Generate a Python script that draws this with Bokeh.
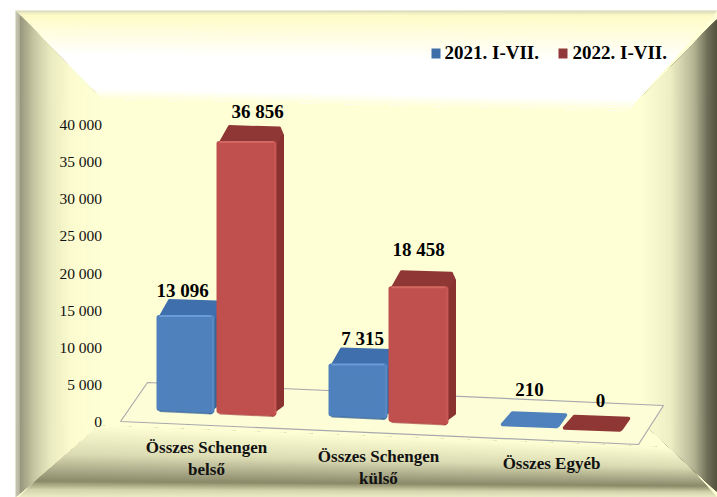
from bokeh.plotting import figure
from bokeh.models import Range1d, LinearAxis, FixedTicker
from bokeh.core.properties import value as V
from bokeh.embed import file_html
from bokeh.resources import INLINE

categories = ["Összes Schengen\nbelső", "Összes Schengen\nkülső", "Összes Egyéb"]
series_names = ["2021. I-VII.", "2022. I-VII."]
values_2021 = [13096, 7315, 210]
values_2022 = [36856, 18458, 0]
ticks = [0, 5000, 10000, 15000, 20000, 25000, 30000, 35000, 40000]

SERIF = V("Liberation Serif")
W, H = 717, 497
Y0, K = 421.0, 297.0 / 40000.0

def v_of(py):
    return (Y0 - py) / K

def fmt(n):
    return f"{n:,}".replace(",", " ")

p = figure(width=W, height=H, output_backend="svg", toolbar_location=None,
           x_range=Range1d(0, W), y_range=Range1d(v_of(H), v_of(0)),
           x_axis_location=None, y_axis_location=None,
           min_border=0, min_border_left=0, min_border_right=0, min_border_top=0, min_border_bottom=0,
           outline_line_color=None, background_fill_color="white", border_fill_color="white")
p.grid.visible = False
p.extra_y_ranges = {"px": Range1d(H, 0)}

def hx(c):
    return tuple(int(c[i:i + 2], 16) for i in (1, 3, 5))

def ramp(stops, t):
    for (a, ca), (b, cb) in zip(stops, stops[1:]):
        if t <= b:
            f = (t - a) / (b - a) if b > a else 0
            A, B = hx(ca), hx(cb)
            return "#%02x%02x%02x" % tuple(round(A[i] + (B[i] - A[i]) * f) for i in range(3))
    return stops[-1][1]

def band(a, b, c, d, stops, n=60):
    xs, ys, cs = [], [], []
    for i in range(n):
        t = i / n
        xs.append([a[0] + t * (c[0] - a[0]), b[0] + t * (d[0] - b[0]), d[0], c[0]])
        ys.append([a[1] + t * (c[1] - a[1]), b[1] + t * (d[1] - b[1]), d[1], c[1]])
        cs.append(ramp(stops, t))
    p.patches(xs, ys, fill_color=cs, line_color=None, y_range_name="px")

PANEL = "#ffffd6"
p.quad(left=[15], right=[717], top=[10], bottom=[497], fill_color=PANEL, line_color=None, y_range_name="px")
band((15, 10), (717, 10), (100, 98), (627, 110),
     [(0, "#dcdcc0"), (0.04, "#fffbc6"), (0.25, "#fffde0"), (0.5, "#ffffff"), (0.88, "#ffffff"), (1, PANEL)])
band((18, 497), (717, 497), (92, 425), (670, 447),
     [(0, "#eaeac4"), (0.1, "#d4d4ac"), (0.22, "#8a8a68"), (0.34, "#a4a484"), (0.6, "#dcdcb4"), (1, PANEL)])
band((15, 10), (15, 497), (100, 98), (100, 423),
     [(0, "#c4c4b0"), (0.04, "#b8b8a0"), (0.05, "#98987e"), (0.2, "#c4c4a0"), (0.4, "#eaeac0"), (0.65, "#fbfbcf"), (1, PANEL)])
band((717, 18), (717, 492), (640, 98), (640, 420),
     [(0, "#54543f"), (0.12, "#6e6e58"), (0.3, "#b4b494"), (0.6, "#eeeec4"), (1, PANEL)])

# floor outline
p.patches([[120, 147, 663, 638]], [[421, 382, 405, 444]], fill_color="#fdfdd8", line_color="#a9a9ad",
          line_width=1.2, y_range_name="px")

def bar3d(val, x0, x1, base, front, top, side, hi, low):
    DX_L, DX_R, DEPTH = 11, 7, 16
    yb0, yb1 = base - 1.5, base + 1
    h = val * K
    yt = (yb0 + yb1) / 2 - h

    def py(a):
        return [v_of(u) for u in a]

    if h > 5:
        # right side
        p.patches([[x1 - 3, x1 + DX_R - 3, x1 + DX_R - 1, x1 + DX_R - 1, x1 - 6, x1 - 3]],
                  [py([yt + 1, yt - DEPTH + 6, yt - DEPTH + 10, yb1 - 11, yb1 - 2, yb1 - 1])],
                  fill_color=side, line_color=side, line_width=3, line_join="round")
        # top
        p.patches([[x0 + 2, x0 + DX_L + 2, x1 + DX_R - 4, x1 + DX_R - 2, x1 - 2]],
                  [py([yt + 5, yt - DEPTH + 1.5, yt - DEPTH + 3, yt - DEPTH + 8, yt + 5])],
                  fill_color=top, line_color=top, line_width=3, line_join="round")
        # front, stroked for round corners
        p.patches([[x0 + 2.5, x1 - 2.5, x1 - 2.5, x0 + 2.5]],
                  [py([yb0 - 2.5, yb1 - 2.5, yt + 2.5, yt + 2.5])],
                  fill_color=front, line_color=front, line_width=5, line_join="round")
        # edge highlights and shade
        p.line([x0 + 3, x1 - 3], py([yt + 1, yt + 1]), line_color=hi, line_width=2, line_alpha=0.7)
        p.line([x1 - 1.5, x1 - 1.5], py([yt + 2, yb1 - 3]), line_color=hi, line_width=1.5, line_alpha=0.3)
        p.line([x0 + 3, x1 - 3], py([yb0 + 0.2, yb1 + 0.2]), line_color=low, line_width=1.5, line_alpha=0.7)
    else:
        col = front if val > 0 else top
        p.patches([[x0 + 2, x0 + DX_L + 1, x1 + 8, x1 + 1, x1 - 1]],
                  [py([base - 3, base - 14.5, base - 12.5, base - 2.5, base - 1])],
                  fill_color=col, line_color=col, line_width=3.5, line_join="round")

# geometry only: left, right, base pixel of each front face
geo_2021 = [(156, 214, 412), (328, 387, 417.5), (500, 557, 427)]
geo_2022 = [(216, 276, 414.5), (388, 448, 423), (562, 620, 430.5)]
BLUE = ("#4f81bd", "#3f6fac", "#3a6496", "#78a6de", "#2f5c96")
RED = ("#c0504d", "#8f3735", "#8a3230", "#dc706a", "#a84040")

for vs, gs, col in ((values_2021, geo_2021, BLUE), (values_2022, geo_2022, RED)):
    for val, (x0, x1, b) in zip(vs, gs):
        bar3d(val, x0, x1, b, *col)

# value labels
lx = [182, 257, 362, 418, 529, 600]
ly = [290, 111, 338, 249, 389, 400]
lv = [values_2021[0], values_2022[0], values_2021[1], values_2022[1], values_2021[2], values_2022[2]]
p.text(lx, ly, text=[fmt(v) for v in lv], text_font=SERIF, text_font_style="bold", text_font_size="19px",
       text_align="center", text_baseline="middle", text_color="black", y_range_name="px")

# category labels
p.text([206, 378, 551], [458, 467, 463], text=categories, text_font=SERIF, text_font_style="bold",
       text_font_size="17px", text_align="center", text_baseline="middle", text_color="#111111",
       text_line_height=1.17, y_range_name="px")

# legend
p.quad(left=[431, 558], right=[440, 567], top=[48, 48], bottom=[58, 58],
       fill_color=["#3f6fa8", "#93383a"], line_color=None, y_range_name="px")
p.text([444, 572], [52, 52], text=series_names, text_font=SERIF, text_font_style="bold", text_font_size="19px",
       text_align="left", text_baseline="middle", text_color="black", y_range_name="px")

# value axis
ax = LinearAxis(fixed_location=107.5, ticker=FixedTicker(ticks=ticks),
                major_label_overrides={t: fmt(t) for t in ticks},
                axis_line_color=None, major_tick_line_color=None, minor_tick_line_color=None,
                major_label_text_font="Liberation Serif", major_label_text_font_size="15.5px",
                major_label_text_color="#111111", major_label_standoff=0)
p.add_layout(ax, "left")

open("out.html", "w").write(file_html(p, INLINE))
